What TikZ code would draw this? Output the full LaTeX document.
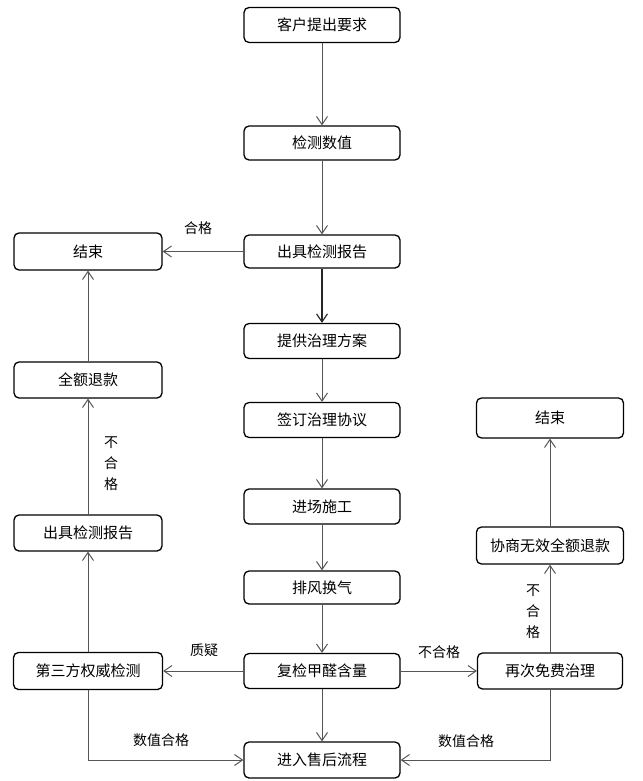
\documentclass[tikz,border=0pt]{standalone}
\usepackage{fontspec}
\setmainfont{Noto Sans CJK SC}
\usetikzlibrary{arrows.meta}
\definecolor{ln}{RGB}{85,85,85}
\begin{document}
\begin{tikzpicture}[x=1pt,y=-1pt,
  box/.style={draw=black, line width=1.3pt, rounded corners=5pt, fill=white,
    minimum width=#1, minimum height=35pt, inner sep=0pt,
    font=\fontsize{15}{17}\selectfont},
  box/.default=156pt,
  conn/.style={draw=ln, line width=1pt, -{Straight Barb[length=8pt,width=11pt]}},
  lbl/.style={inner sep=0pt, font=\fontsize{14}{21}\selectfont, align=center}
]
\useasboundingbox (0,0) rectangle (642,781);
% center column
\node[box] (c1) at (322,25) {客户提出要求};
\node[box, minimum height=34pt] (c2) at (322,143) {检测数值};
\node[box, minimum height=33pt] (c3) at (322,251.5) {出具检测报告};
\node[box] (c4) at (322,341) {提供治理方案};
\node[box] (c5) at (322,420) {签订治理协议};
\node[box] (c6) at (322,506.5) {进场施工};
\node[box, minimum height=33pt] (c7) at (322,587.5) {排风换气};
\node[box] (c8) at (322,671) {复检甲醛含量};
\node[box, minimum height=36pt] (c9) at (322,760) {进入售后流程};
% left column
\node[box=148pt, minimum height=37pt] (l1) at (88,251.5) {结束};
\node[box=148pt, minimum height=36pt] (l2) at (88,380) {全额退款};
\node[box=148pt, minimum height=36pt] (l3) at (88,533) {出具检测报告};
\node[box=149pt, minimum height=37pt] (l4) at (88,671) {第三方权威检测};
% right column
\node[box=147pt, minimum height=40pt] (r1) at (550,418) {结束};
\node[box=147pt, minimum height=37pt] (r2) at (550,545.5) {协商无效全额退款};
\node[box=145pt, minimum height=36pt] (r3) at (550,671) {再次免费治理};
% connectors center
\draw[conn] (c1) -- (c2);
\draw[conn] (c2) -- (c3);
\draw[conn, draw=black!85, line width=1.15pt] (c3) -- (c4);
\draw[conn] (c4) -- (c5);
\draw[conn] (c5) -- (c6);
\draw[conn] (c6) -- (c7);
\draw[conn] (c7) -- (c8);
\draw[conn] (c8) -- (c9);
\draw[conn] (c3) -- (l1);
\draw[conn] (c8) -- (l4);
\draw[conn] (c8) -- (r3);
% left
\draw[conn] (l4) -- (l3);
\draw[conn] (l3) -- (l2);
\draw[conn] (l2) -- (l1);
\draw[conn] (l4.south) |- (c9.west);
% right
\draw[conn] (r3) -- (r2);
\draw[conn] (r2) -- (r1);
\draw[conn] (r3.south) |- (c9.east);
% labels
\node[lbl] (t1) at (198,228) {合格};
\node[lbl] (t2) at (111,464) {不\\合\\格};
\node[lbl] (t3) at (204,650) {质疑};
\node[lbl] (t4) at (439,652) {不合格};
\node[lbl] (t5) at (161,740) {数值合格};
\node[lbl] (t6) at (466,741) {数值合格};
\node[lbl] (t7) at (533,612) {不\\合\\格};
\end{tikzpicture}
\end{document}
